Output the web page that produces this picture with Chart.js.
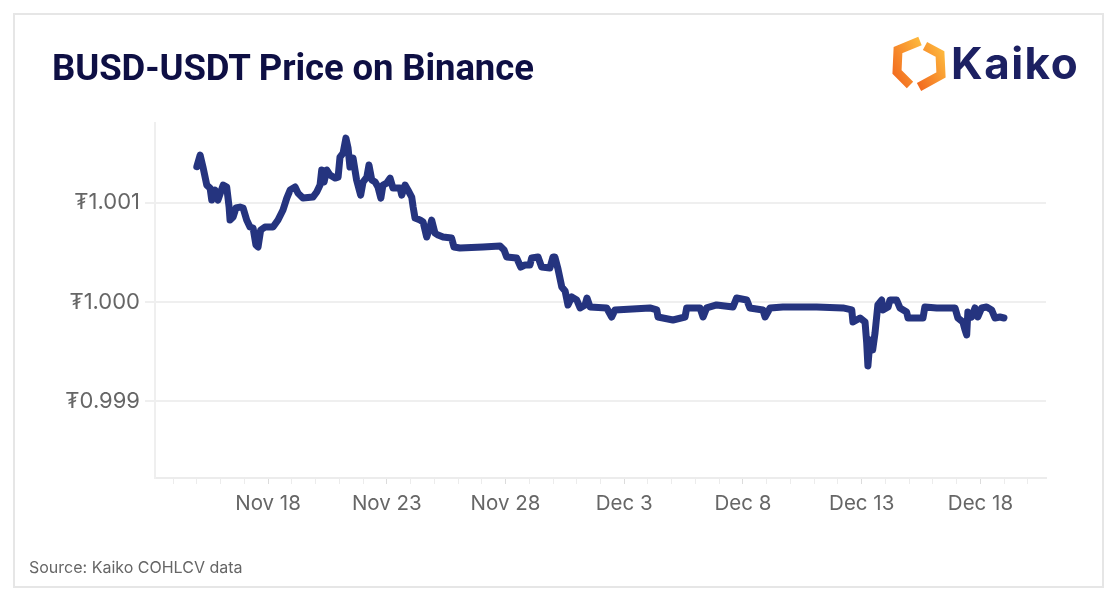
<!DOCTYPE html>
<html>
<head>
<meta charset="utf-8">
<script src="https://cdn.jsdelivr.net/npm/chart.js@4.4.1/dist/chart.umd.min.js"></script>
<style>
  html, body { margin: 0; padding: 0; background: #fff; }
  #wrap { position: relative; width: 1116px; height: 600px; overflow: hidden; }
  #frame { position: absolute; left: 13px; top: 13px; width: 1087px; height: 571px; border: 2px solid #e6e6e6; box-sizing: content-box; }
  #title { position: absolute; left: 52px; top: 46px; margin: 0; font: 700 36.5px Roboto, sans-serif; color: #0e0f44; letter-spacing: -0.1px; }
  #logo { position: absolute; left: 888px; top: 35px; }
  #brand { position: absolute; left: 951px; top: 36px; font: 700 44px Inter, sans-serif; color: #1c2062; letter-spacing: 1.5px; }
  #source { position: absolute; left: 29px; top: 557px; font: 400 16px Inter, sans-serif; color: #666; }
  #chart { position: absolute; left: 0; top: 0; }
</style>
</head>
<body>
<div id="wrap">
  <div id="frame"></div>
  <canvas id="chart" width="1116" height="600"></canvas>
  <h1 id="title">BUSD-USDT Price on Binance</h1>
  <svg id="logo" width="60" height="60" viewBox="0 0 60 60">
    <defs>
      <linearGradient id="og" x1="0" y1="1" x2="1" y2="0">
        <stop offset="0" stop-color="#f26a1f"/>
        <stop offset="1" stop-color="#fdb83d"/>
      </linearGradient>
    </defs>
    <polyline points="32,6 10,15 9,37 22,50" fill="none" stroke="url(#og)" stroke-width="9"/>
    <polyline points="37,11 52,19 53,40 31,52" fill="none" stroke="url(#og)" stroke-width="9"/>
  </svg>
  <div id="brand">Kaiko</div>
  <div id="source">Source: Kaiko COHLCV data</div>
</div>
<script>
// day of month counting from Nov (Dec 1 = 31)
var days = [15.00, 15.14, 15.26, 15.42, 15.56, 15.63, 15.77, 15.89, 16.11, 16.26,
  16.36, 16.40, 16.53, 16.65, 16.82, 16.95, 17.10, 17.24, 17.37, 17.49,
  17.58, 17.69, 17.87, 18.21, 18.42, 18.63, 18.79, 18.93, 19.14, 19.26,
  19.47, 19.89, 20.05, 20.19, 20.26, 20.36, 20.47, 20.61, 20.82, 20.95,
  21.03, 21.16, 21.28, 21.37, 21.45, 21.58, 21.73, 21.90, 22.00, 22.16,
  22.25, 22.37, 22.51, 22.63, 22.75, 22.84, 23.00, 23.14, 23.26, 23.56,
  23.63, 23.77, 23.89, 24.05, 24.11, 24.19, 24.40, 24.53, 24.68, 24.82,
  24.89, 25.03, 25.16, 25.37, 25.73, 25.83, 26.08, 27.05, 27.77, 27.94,
  28.05, 28.47, 28.64, 28.82, 29.03, 29.10, 29.37, 29.52, 29.87, 30.00,
  30.08, 30.21, 30.37, 30.51, 30.63, 30.79, 31.00, 31.14, 31.35, 31.43,
  31.56, 32.26, 32.47, 32.61, 34.08, 34.37, 34.42, 35.05, 35.56, 35.63,
  36.19, 36.32, 36.47, 36.89, 37.58, 37.73, 38.16, 38.29, 38.84, 38.93,
  39.14, 39.68, 41.10, 42.21, 42.58, 42.63, 42.93, 43.14, 43.21, 43.26,
  43.35, 43.46, 43.56, 43.68, 43.84, 43.89, 44.11, 44.19, 44.47, 44.61,
  44.89, 44.95, 45.58, 45.66, 46.16, 46.93, 47.05, 47.26, 47.35, 47.42,
  47.47, 47.63, 47.77, 47.89, 48.05, 48.26, 48.47, 48.61, 48.82, 48.99];

var prices = [1.001360, 1.001477, 1.001357, 1.001176, 1.001146, 1.001025, 1.001126, 1.001025, 1.001176, 1.001156,
  1.000955, 1.000824, 1.000854, 1.000945, 1.000955, 1.000945, 1.000824, 1.000754, 1.000744, 1.000573,
  1.000553, 1.000724, 1.000754, 1.000754, 1.000824, 1.000925, 1.001045, 1.001126, 1.001156, 1.001095,
  1.001045, 1.001055, 1.001106, 1.001176, 1.001327, 1.001206, 1.001327, 1.001276, 1.001246, 1.001256,
  1.001457, 1.001497, 1.001648, 1.001548, 1.001357, 1.001447, 1.001226, 1.001075, 1.001206, 1.001256,
  1.001377, 1.001226, 1.001206, 1.001156, 1.001045, 1.001176, 1.001196, 1.001246, 1.001146, 1.001146,
  1.001075, 1.001176, 1.001126, 1.001055, 1.000955, 1.000844, 1.000824, 1.000804, 1.000653, 1.000754,
  1.000824, 1.000693, 1.000673, 1.000653, 1.000643, 1.000553, 1.000543, 1.000553, 1.000563, 1.000523,
  1.000452, 1.000442, 1.000352, 1.000372, 1.000372, 1.000442, 1.000452, 1.000352, 1.000342, 1.000452,
  1.000452, 1.000332, 1.000151, 1.000111, 0.999970, 1.000050, 1.000020, 0.999940, 0.999970, 1.000040,
  0.999950, 0.999940, 0.999849, 0.999920, 0.999940, 0.999920, 0.999849, 0.999819, 0.999849, 0.999940,
  0.999940, 0.999849, 0.999940, 0.999970, 0.999950, 1.000040, 1.000020, 0.999940, 0.999920, 0.999849,
  0.999940, 0.999950, 0.999950, 0.999940, 0.999920, 0.999799, 0.999839, 0.999799, 0.999588, 0.999357,
  0.999618, 0.999518, 0.999688, 0.999970, 1.000020, 0.999920, 0.999950, 1.000020, 1.000020, 0.999940,
  0.999899, 0.999839, 0.999839, 0.999950, 0.999940, 0.999940, 0.999839, 0.999799, 0.999719, 0.999668,
  0.999899, 0.999849, 0.999940, 0.999849, 0.999940, 0.999950, 0.999920, 0.999839, 0.999849, 0.999839];

var tickDays = [18, 23, 28, 33, 38, 43, 48];
var tickLabels = ['Nov 18', 'Nov 23', 'Nov 28', 'Dec 3', 'Dec 8', 'Dec 13', 'Dec 18'];
var priceTicks = [0.999, 1.000, 1.001];

var points = days.map(function (d, i) { return { x: d, y: prices[i] }; });

var ctx = document.getElementById('chart').getContext('2d');
var priceChart = new Chart(ctx, {
  type: 'line',
  data: {
    datasets: [{
      data: points,
      borderColor: '#25347f',
      borderWidth: 7,
      pointRadius: 0,
      tension: 0,
      borderJoinStyle: 'round',
      borderCapStyle: 'round'
    }]
  },
  options: {
    responsive: false,
    animation: false,
    devicePixelRatio: 1,
    layout: { padding: { top: 123, right: 70, bottom: 82, left: 0 } },
    plugins: { legend: { display: false }, tooltip: { enabled: false } },
    scales: {
      x: {
        type: 'linear',
        min: 13.24,
        max: 50.76,
        afterFit: function (scale) { scale.height = 40; },
        border: { color: '#ececec', width: 2 },
        grid: {
          drawOnChartArea: false,
          drawTicks: true,
          tickLength: 6,
          tickColor: function (c) {
            return tickDays.indexOf(c.tick && c.tick.value) >= 0 ? '#dcdcdc' : '#ececec';
          }
        },
        ticks: {
          stepSize: 1,
          includeBounds: false,
          autoSkip: false,
          maxRotation: 0,
          padding: 8,
          color: '#666',
          font: { family: 'Inter', size: 20.5 },
          callback: function (v) {
            var i = tickDays.indexOf(v);
            return i >= 0 ? tickLabels[i] : '';
          }
        }
      },
      y: {
        min: 0.99823,
        max: 1.0018,
        afterFit: function (scale) { scale.width = 155; },
        afterBuildTicks: function (scale) {
          scale.ticks = priceTicks.map(function (v) { return { value: v }; });
        },
        border: { color: '#efefef', width: 2 },
        grid: { color: '#efefef', lineWidth: 2, tickLength: 10 },
        ticks: {
          padding: 5,
          color: '#666',
          font: { family: 'Inter', size: 22 },
          callback: function (v) { return '₮' + v.toFixed(3); }
        }
      }
    }
  }
});
</script>
</body>
</html>
